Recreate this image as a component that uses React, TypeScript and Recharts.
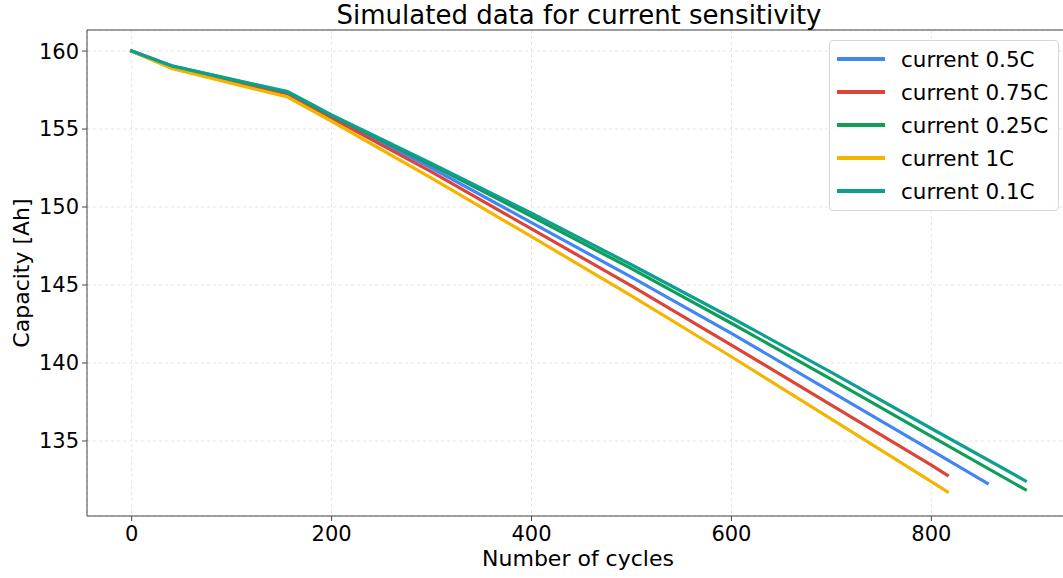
import React from 'react';
import {
  CartesianGrid,
  Line,
  LineChart,
  ReferenceLine,
  XAxis,
  YAxis,
} from 'recharts';

// cycles shared by every series; each series then has its own last cycle
const cycles = [0, 40, 156, 200, 300, 400, 500, 600, 700, 800];

const cap05 = [160, 159.0, 157.3, 155.8, 152.5, 149.0, 145.5, 141.9, 138.15, 134.4, 132.28];
const cap075 = [160, 158.98, 157.25, 155.7, 152.25, 148.6, 144.95, 141.15, 137.3, 133.45, 132.8];
const cap025 = [160, 159.05, 157.35, 155.85, 152.7, 149.4, 146.05, 142.55, 138.95, 135.3, 131.88];
const cap1 = [160, 158.88, 157.05, 155.5, 151.85, 148.1, 144.3, 140.4, 136.4, 132.4, 131.74];
const cap01 = [160, 159.05, 157.4, 155.9, 152.8, 149.6, 146.3, 142.9, 139.4, 135.8, 132.45];

const lastCycles = [856, 816, 894, 816, 894];
const seriesNames = ['current 0.5C', 'current 0.75C', 'current 0.25C', 'current 1C', 'current 0.1C'];
const seriesColors = ['#4285F4', '#DB4437', '#0F9D58', '#F4B400', '#0E9F8E'];
const seriesValues = [cap05, cap075, cap025, cap1, cap01];

const xTicks = [0, 200, 400, 600, 800];
const yTicks = [135, 140, 145, 150, 155, 160];

const X_DOMAIN = [-44.7, 940.7];
const Y_DOMAIN = [130.19, 161.35];

const FONT = '"DejaVu Sans", sans-serif';

const series = seriesValues.map((vals, i) => ({
  name: seriesNames[i],
  color: seriesColors[i],
  data: vals.map((v, j) => ({
    cycle: j < cycles.length ? cycles[j] : lastCycles[i],
    capacity: v,
  })),
}));

export default function App() {
  return (
    <div
      style={{
        position: 'absolute',
        left: 0,
        top: 0,
        width: 1063,
        height: 578,
        overflow: 'hidden',
        background: '#fff',
        fontFamily: FONT,
      }}
    >
      <LineChart
        width={1100}
        height={578}
        margin={{ top: 30, right: 28, bottom: 2, left: 0 }}
      >
        <CartesianGrid stroke="#e4e4e4" strokeDasharray="3 3" />
        <XAxis
          dataKey="cycle"
          type="number"
          domain={X_DOMAIN}
          ticks={xTicks}
          allowDataOverflow
          height={60}
          stroke="#444"
          tickSize={5}
          tickMargin={5}
          tick={{ fill: '#000', fontSize: 21, fontFamily: FONT }}
        />
        <YAxis
          type="number"
          domain={Y_DOMAIN}
          ticks={yTicks}
          allowDataOverflow
          width={87}
          stroke="#444"
          tickSize={5}
          tickMargin={3}
          tick={{ fill: '#000', fontSize: 21, fontFamily: FONT }}
        />
        <ReferenceLine y={Y_DOMAIN[1]} stroke="#444" />
        {series.map((s) => (
          <Line
            key={s.name}
            data={s.data}
            dataKey="capacity"
            name={s.name}
            type="linear"
            stroke={s.color}
            strokeWidth={3.2}
            strokeLinecap="square"
            dot={false}
            activeDot={false}
            isAnimationActive={false}
          />
        ))}
      </LineChart>

      <div
        style={{
          position: 'absolute',
          left: 579,
          top: 15,
          transform: 'translate(-50%, -50%)',
          fontSize: 26,
          lineHeight: 1,
          whiteSpace: 'nowrap',
        }}
      >
        Simulated data for current sensitivity
      </div>
      <div
        style={{
          position: 'absolute',
          left: 578,
          top: 559,
          transform: 'translate(-50%, -50%)',
          fontSize: 22,
          lineHeight: 1,
          whiteSpace: 'nowrap',
        }}
      >
        Number of cycles
      </div>
      <div
        style={{
          position: 'absolute',
          left: 22,
          top: 273,
          transform: 'translate(-50%, -50%) rotate(-90deg)',
          fontSize: 22,
          lineHeight: 1,
          whiteSpace: 'nowrap',
        }}
      >
        Capacity [Ah]
      </div>

      <div
        style={{
          position: 'absolute',
          left: 829,
          top: 40,
          width: 230,
          height: 171,
          boxSizing: 'border-box',
          border: '1px solid #d6d6d6',
          borderRadius: 4,
          background: 'rgba(255,255,255,0.85)',
        }}
      >
        {series.map((s, i) => (
          <div
            key={s.name}
            style={{
              position: 'absolute',
              left: 0,
              top: 18 + i * 33 - 16,
              height: 32,
              display: 'flex',
              alignItems: 'center',
            }}
          >
            <div
              style={{
                marginLeft: 7,
                width: 48,
                height: 3.3,
                background: s.color,
              }}
            />
            <span style={{ marginLeft: 16, fontSize: 21.5, whiteSpace: 'nowrap' }}>
              {s.name}
            </span>
          </div>
        ))}
      </div>
    </div>
  );
}
